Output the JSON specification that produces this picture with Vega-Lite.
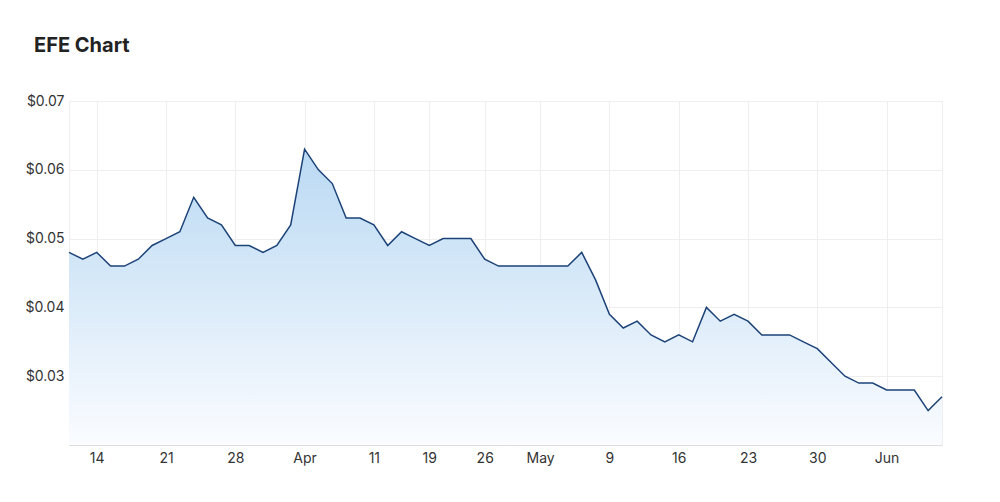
{
  "$schema": "https://vega.github.io/schema/vega-lite/v6.json",
  "width": 873,
  "height": 344,
  "autosize": {"type": "none"},
  "padding": {"left": 69, "top": 101, "right": 58, "bottom": 57},
  "background": "white",
  "title": {
    "text": "EFE Chart",
    "anchor": "start",
    "frame": "group",
    "dx": -35,
    "offset": 38,
    "font": "Inter",
    "fontSize": 20,
    "fontWeight": "bold",
    "color": "#222222"
  },
  "data": {
    "values": [
      {"date": "2022-03-10", "price": 0.048},
      {"date": "2022-03-11", "price": 0.047},
      {"date": "2022-03-14", "price": 0.048},
      {"date": "2022-03-15", "price": 0.046},
      {"date": "2022-03-16", "price": 0.046},
      {"date": "2022-03-17", "price": 0.047},
      {"date": "2022-03-18", "price": 0.049},
      {"date": "2022-03-21", "price": 0.050},
      {"date": "2022-03-22", "price": 0.051},
      {"date": "2022-03-23", "price": 0.056},
      {"date": "2022-03-24", "price": 0.053},
      {"date": "2022-03-25", "price": 0.052},
      {"date": "2022-03-28", "price": 0.049},
      {"date": "2022-03-29", "price": 0.049},
      {"date": "2022-03-30", "price": 0.048},
      {"date": "2022-03-31", "price": 0.049},
      {"date": "2022-04-01", "price": 0.052},
      {"date": "2022-04-04", "price": 0.063},
      {"date": "2022-04-05", "price": 0.060},
      {"date": "2022-04-06", "price": 0.058},
      {"date": "2022-04-07", "price": 0.053},
      {"date": "2022-04-08", "price": 0.053},
      {"date": "2022-04-11", "price": 0.052},
      {"date": "2022-04-12", "price": 0.049},
      {"date": "2022-04-13", "price": 0.051},
      {"date": "2022-04-14", "price": 0.050},
      {"date": "2022-04-19", "price": 0.049},
      {"date": "2022-04-20", "price": 0.050},
      {"date": "2022-04-21", "price": 0.050},
      {"date": "2022-04-22", "price": 0.050},
      {"date": "2022-04-26", "price": 0.047},
      {"date": "2022-04-27", "price": 0.046},
      {"date": "2022-04-28", "price": 0.046},
      {"date": "2022-04-29", "price": 0.046},
      {"date": "2022-05-02", "price": 0.046},
      {"date": "2022-05-03", "price": 0.046},
      {"date": "2022-05-04", "price": 0.046},
      {"date": "2022-05-05", "price": 0.048},
      {"date": "2022-05-06", "price": 0.044},
      {"date": "2022-05-09", "price": 0.039},
      {"date": "2022-05-10", "price": 0.037},
      {"date": "2022-05-11", "price": 0.038},
      {"date": "2022-05-12", "price": 0.036},
      {"date": "2022-05-13", "price": 0.035},
      {"date": "2022-05-16", "price": 0.036},
      {"date": "2022-05-17", "price": 0.035},
      {"date": "2022-05-18", "price": 0.040},
      {"date": "2022-05-19", "price": 0.038},
      {"date": "2022-05-20", "price": 0.039},
      {"date": "2022-05-23", "price": 0.038},
      {"date": "2022-05-24", "price": 0.036},
      {"date": "2022-05-25", "price": 0.036},
      {"date": "2022-05-26", "price": 0.036},
      {"date": "2022-05-27", "price": 0.035},
      {"date": "2022-05-30", "price": 0.034},
      {"date": "2022-05-31", "price": 0.032},
      {"date": "2022-06-01", "price": 0.030},
      {"date": "2022-06-02", "price": 0.029},
      {"date": "2022-06-03", "price": 0.029},
      {"date": "2022-06-06", "price": 0.028},
      {"date": "2022-06-07", "price": 0.028},
      {"date": "2022-06-08", "price": 0.028},
      {"date": "2022-06-09", "price": 0.025},
      {"date": "2022-06-10", "price": 0.027}
    ]
  },
  "encoding": {
    "x": {
      "field": "date",
      "type": "ordinal",
      "sort": null,
      "scale": {"type": "point", "padding": 0},
      "axis": {
        "title": null,
        "values": ["2022-03-14", "2022-03-21", "2022-03-28", "2022-04-04", "2022-04-11", "2022-04-19", "2022-04-26", "2022-05-02", "2022-05-09", "2022-05-16", "2022-05-23", "2022-05-30", "2022-06-06"],
        "labelExpr": "datum.value == '2022-04-04' ? 'Apr' : datum.value == '2022-05-02' ? 'May' : datum.value == '2022-06-06' ? 'Jun' : '' + toNumber(slice(datum.value, 8))",
        "labelAngle": 0,
        "labelFont": "Inter",
        "labelFontSize": 14,
        "labelColor": "#333333",
        "labelPadding": 6,
        "ticks": false,
        "grid": true,
        "gridColor": "#eeeeee",
        "domainColor": "#dddddd"
      }
    },
    "y": {
      "field": "price",
      "type": "quantitative",
      "scale": {"domain": [0.02, 0.07], "nice": false, "zero": false},
      "axis": {
        "title": null,
        "values": [0.03, 0.04, 0.05, 0.06, 0.07],
        "format": "$.2f",
        "labelFont": "Inter",
        "labelFontSize": 14,
        "labelColor": "#333333",
        "labelPadding": 5,
        "ticks": false,
        "domain": false,
        "grid": true,
        "gridColor": "#eeeeee"
      }
    }
  },
  "layer": [
    {
      "mark": {
        "type": "area",
        "color": {
          "gradient": "linear",
          "x1": 0, "y1": 0, "x2": 0, "y2": 1,
          "stops": [
            {"offset": 0, "color": "#bad9f3"},
            {"offset": 1, "color": "#fafcff"}
          ]
        }
      },
      "encoding": {"y2": {"datum": 0.02}}
    },
    {
      "mark": {"type": "line", "color": "#1c4378", "strokeWidth": 1.5}
    }
  ],
  "config": {
    "view": {"stroke": "#eeeeee"}
  }
}
